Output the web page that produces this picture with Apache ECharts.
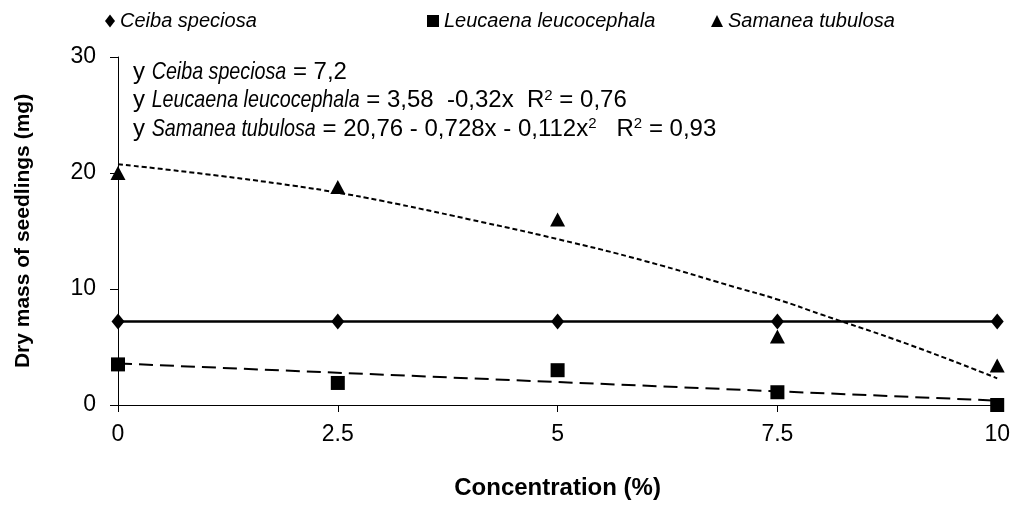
<!DOCTYPE html>
<html><head><meta charset="utf-8">
<script src="https://cdn.jsdelivr.net/npm/echarts@6/dist/echarts.min.js"></script>
<style>html,body{margin:0;padding:0;background:#fff}#c{width:1013px;height:505px}</style>
</head><body><div id="c"></div>
<script>
const concentrations = [0, 2.5, 5, 7.5, 10];
const ceiba = [7.2, 7.2, 7.2, 7.2, 7.2];
const leucaena = [3.5, 1.9, 3.0, 1.1, 0.0];
const samanea = [20.0, 18.8, 16.0, 5.9, 3.4];
// trend lines
const leucaenaTrendX = [0, 10];
const leucaenaTrendY = [3.58, 0.38];
const samaneaTrendX = [0, 1, 2, 2.5, 3, 4, 5, 6, 7, 7.5, 8, 9, 10];
const samaneaTrendY = [20.76, 19.9, 18.9, 18.3, 17.6, 16.0, 14.3, 12.4, 10.2, 9.1, 7.8, 5.2, 2.3];
const xTicks = ['0', '2.5', '5', '7.5', '10'];
// equation lines: [text, style] with style n = normal, i = italic, s = superscript
const equationLines = [
  [['y ', 'n'], ['Ceiba speciosa', 'i'], [' = 7,2', 'n']],
  [['y ', 'n'], ['Leucaena leucocephala', 'i'], [' = 3,58  -0,32x  R', 'n'], ['2', 's'], [' = 0,76', 'n']],
  [['y ', 'n'], ['Samanea tubulosa', 'i'], [' = 20,76 - 0,728x - 0,112x', 'n'], ['2', 's'], ['   R', 'n'], ['2', 's'], [' = 0,93', 'n']]
];

const pair = (xs, ys) => xs.map((x, i) => [x, ys[i]]);
const F = 'Liberation Sans, Arial, sans-serif';
const legendStyle = {fontFamily: F, fontSize: 20, fontStyle: 'italic', color: '#000'};

// build equation text elements
const ctx = document.createElement('canvas').getContext('2d');
const EQ = {n: {size: 24, style: 'normal', sx: 1, dy: 0}, i: {size: 24, style: 'italic', sx: 0.82, dy: 0}, s: {size: 15, style: 'normal', sx: 1, dy: -5}};
const eqElems = [];
equationLines.forEach((line, li) => {
  let x = 0;
  const yTop = li * 28.5;
  line.forEach(([t, k]) => {
    const st = EQ[k];
    ctx.font = st.style + ' ' + st.size + 'px ' + F;
    const w = ctx.measureText(t).width * st.sx;
    eqElems.push({
      type: 'text', x: x, y: yTop + 14 + st.dy, scaleX: st.sx,
      style: {text: t, font: st.style + ' ' + st.size + 'px ' + F, fill: '#000', textBaseline: 'middle', textVerticalAlign: 'middle', verticalAlign: 'middle'}
    });
    x += w;
  });
});

const chart = echarts.init(document.getElementById('c'));
chart.setOption({
  animation: false,
  backgroundColor: '#fff',
  grid: {left: 118, right: 8, top: 57, bottom: 99},
  legend: [
    {data: ['Ceiba speciosa'], left: 100, top: 6, itemWidth: 10, itemHeight: 13, itemGap: 4, textStyle: legendStyle, icon: 'diamond'},
    {data: ['Leucaena leucocephala'], left: 422, top: 6, itemWidth: 12, itemHeight: 12, textStyle: legendStyle, icon: 'rect'},
    {data: ['Samanea tubulosa'], left: 706, top: 6, itemWidth: 12, itemHeight: 12, textStyle: legendStyle, icon: 'triangle'}
  ],
  xAxis: {
    type: 'value', min: 0, max: 10, interval: 2.5,
    name: 'Concentration (%)', nameLocation: 'middle', nameGap: 71,
    nameTextStyle: {fontFamily: F, fontSize: 24, fontWeight: 'bold', color: '#000'},
    axisLine: {lineStyle: {color: '#000', width: 1}},
    axisTick: {show: true, inside: false, length: 7, lineStyle: {color: '#000'}},
    axisLabel: {fontFamily: F, fontSize: 23, color: '#000', margin: 18,
      formatter: v => xTicks[Math.round(v / 2.5)]},
    splitLine: {show: false}
  },
  yAxis: {
    type: 'value', min: 0, max: 30, interval: 10,
    name: 'Dry mass of seedlings (mg)', nameLocation: 'middle', nameGap: 84, nameRotate: 90,
    nameTextStyle: {fontFamily: F, fontSize: 21, fontWeight: 'bold', color: '#000'},
    axisLine: {show: true, lineStyle: {color: '#000', width: 1}},
    axisTick: {show: true, inside: false, length: 8, lineStyle: {color: '#000'}},
    axisLabel: {fontFamily: F, fontSize: 23, color: '#000', margin: 22},
    splitLine: {show: false}
  },
  series: [
    {name: 'Ceiba speciosa', type: 'line', data: pair(concentrations, ceiba),
      symbol: 'diamond', symbolSize: [13, 16], itemStyle: {color: '#000', opacity: 1},
      lineStyle: {color: '#000', width: 2.5}, z: 3},
    {name: 'Leucaena trend', type: 'line', data: pair(leucaenaTrendX, leucaenaTrendY),
      symbol: 'none', lineStyle: {color: '#000', width: 2, type: [14, 7]}, z: 2},
    {name: 'Leucaena leucocephala', type: 'scatter', data: pair(concentrations, leucaena),
      symbol: 'rect', symbolSize: 14, itemStyle: {color: '#000', opacity: 1}, z: 4},
    {name: 'Samanea trend', type: 'line', data: pair(samaneaTrendX, samaneaTrendY),
      symbol: 'none', smooth: true, lineStyle: {color: '#000', width: 2, type: [5, 3]}, z: 2},
    {name: 'Samanea tubulosa', type: 'scatter', data: pair(concentrations, samanea),
      symbol: 'triangle', symbolSize: [15, 14], itemStyle: {color: '#000', opacity: 1}, z: 4}
  ],
  graphic: [{
    type: 'group', left: 133, top: 60,
    children: eqElems
  }]
});
</script></body></html>
